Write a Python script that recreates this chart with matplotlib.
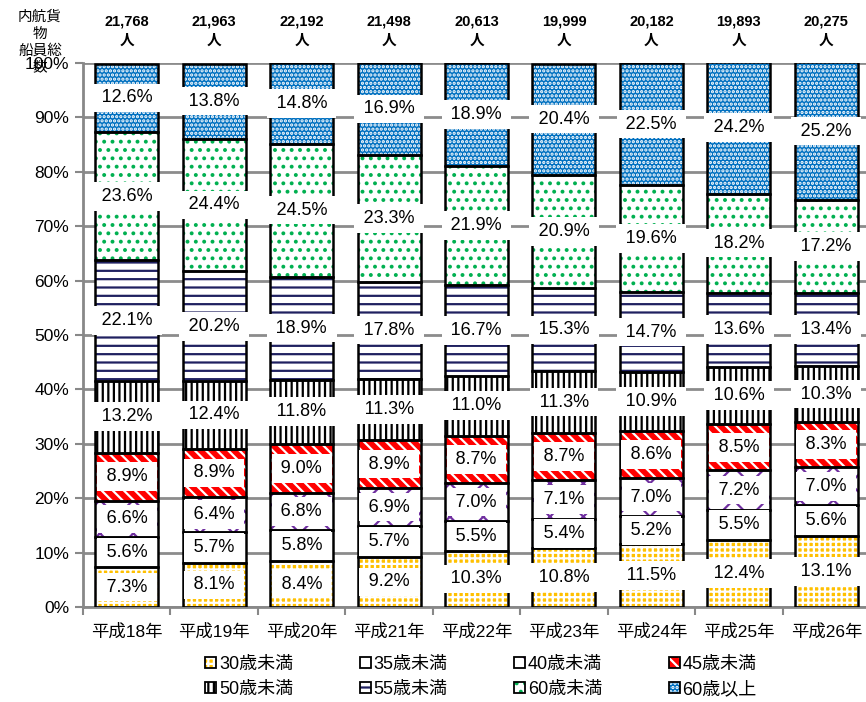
import matplotlib
matplotlib.use("Agg")
import matplotlib.pyplot as plt
import numpy as np
from matplotlib.patches import Patch

plt.rcParams["font.family"] = ["Liberation Sans", "Noto Sans CJK JP", "DejaVu Sans"]
plt.rcParams["hatch.linewidth"] = 1.6

# ---- data -------------------------------------------------------------
years = ["平成18年", "平成19年", "平成20年", "平成21年", "平成22年",
         "平成23年", "平成24年", "平成25年", "平成26年"]
totals = ["21,768", "21,963", "22,192", "21,498", "20,613",
          "19,999", "20,182", "19,893", "20,275"]
age_groups = ["30歳未満", "35歳未満", "40歳未満", "45歳未満",
              "50歳未満", "55歳未満", "60歳未満", "60歳以上"]

under30 = [7.3, 8.1, 8.4, 9.2, 10.3, 10.8, 11.5, 12.4, 13.1]
under35 = [5.6, 5.7, 5.8, 5.7, 5.5, 5.4, 5.2, 5.5, 5.6]
under40 = [6.6, 6.4, 6.8, 6.9, 7.0, 7.1, 7.0, 7.2, 7.0]
under45 = [8.9, 8.9, 9.0, 8.9, 8.7, 8.7, 8.6, 8.5, 8.3]
under50 = [13.2, 12.4, 11.8, 11.3, 11.0, 11.3, 10.9, 10.6, 10.3]
under55 = [22.1, 20.2, 18.9, 17.8, 16.7, 15.3, 14.7, 13.6, 13.4]
under60 = [23.6, 24.4, 24.5, 23.3, 21.9, 20.9, 19.6, 18.2, 17.2]
over60 = [12.6, 13.8, 14.8, 16.9, 18.9, 20.4, 22.5, 24.2, 25.2]

shares = [under30, under35, under40, under45, under50, under55, under60, over60]

# fill colour, pattern colour, pattern
styles = [
    ("#FFC000", "white", "+++"),
    ("white", "white", ""),
    ("white", "#7030A0", "x"),
    ("#FF0000", "white", "\\\\\\"),
    ("white", "black", "|||"),
    ("white", "#1F2060", "--"),
    ("white", "#00B050", ".."),
    ("#0070C0", "white", "...."),
]

# ---- figure -----------------------------------------------------------
fig = plt.figure(figsize=(8.66, 7.02), dpi=100)
ax = fig.add_axes([83 / 866, 95 / 702, 787 / 866, 544 / 702])

x = np.arange(len(years))
width = 0.72
bottom = np.zeros(len(years))
legend_handles = []
for vals, (face, hcol, hatch), name in zip(shares, styles, age_groups):
    vals = np.asarray(vals)
    ax.bar(x, vals, width, bottom=bottom, color=face, edgecolor=hcol,
           hatch=hatch, linewidth=0, zorder=2)
    ax.bar(x, vals, width, bottom=bottom, facecolor="none",
           edgecolor="black", linewidth=1.8, zorder=3)
    for xi, b, v in zip(x, bottom, vals):
        ax.text(xi, b + v / 2, f"\u2009{v:.1f}%\u2009", ha="center",
                va="center", fontsize=13, zorder=5,
                bbox=dict(boxstyle="square,pad=0.32", fc="white", ec="none"))
    fill = Patch(facecolor=face, edgecolor=hcol, hatch=hatch, linewidth=0)
    frame = Patch(facecolor="none", edgecolor="black", linewidth=1.3)
    legend_handles.append((fill, frame))
    bottom += vals

# totals above each bar
for xi, t in zip(x, totals):
    ax.text(xi, 105.8, f"{t}\n人", ha="center", va="center", fontsize=10.5,
            fontweight="bold", linespacing=1.45, clip_on=False)

ax.set_xlim(-0.5, len(years) - 0.5)
ax.set_ylim(0, 100)
ax.set_yticks(np.arange(0, 101, 10))
ax.set_yticklabels([f"{v}%" for v in range(0, 101, 10)], fontsize=12.5)
ax.set_xticks(x)
ax.set_xticklabels(years, fontsize=12.5)
ax.set_xticks(np.arange(-0.5, len(years), 1), minor=True)
ax.tick_params(axis="x", which="major", length=0, pad=12)
ax.tick_params(axis="x", which="minor", length=6, width=1.5, color="#888888")
ax.tick_params(axis="y", length=6, width=1.5, color="#888888", pad=4)

ax.yaxis.grid(True, color="#8C8C8C", linewidth=2, zorder=0)
ax.set_axisbelow(True)
for side in ("top", "right"):
    ax.spines[side].set_visible(False)
for side in ("left", "bottom"):
    ax.spines[side].set_color("#888888")
    ax.spines[side].set_linewidth(2)

fig.text(40 / 866, 1 - 42 / 702, "内航貨\n物\n船員総\n数", ha="center",
         va="center", fontsize=10.5, linespacing=1.25)

# legend, filled row by row
order = [0, 4, 1, 5, 2, 6, 3, 7]
fig.legend([legend_handles[i] for i in order],
           [age_groups[i] for i in order],
           ncol=4, loc="center", bbox_to_anchor=(481 / 866, 1 - 677 / 702),
           frameon=False, fontsize=13, handlelength=0.6, handleheight=0.6,
           handletextpad=0.15, columnspacing=3.7, labelspacing=0.45)

fig.savefig("out.png", dpi=100)
